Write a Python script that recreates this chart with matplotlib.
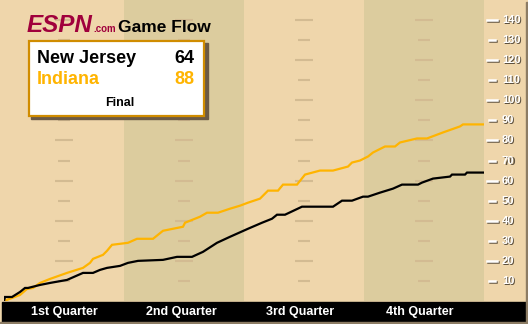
import matplotlib
matplotlib.use("Agg")
import matplotlib.pyplot as plt
from matplotlib.patches import Rectangle
import matplotlib.transforms as mtransforms

# game minute / running score
nj_min = [0, 0.1, 0.8, 1.6, 2.1, 2.4, 3.6, 4.6, 6.3, 7.9, 8.9, 9.6, 10.3, 11.6, 12.4, 13.4,
          15.9, 17.3, 18.8, 19.9, 21.3, 22.6, 24.4, 25.8, 26.8, 27.3, 28.1, 29.8, 32.9,
          33.8, 34.8, 35.9, 36.4, 37.6, 38.9, 39.8, 41.4, 41.8, 42.9, 44.6, 44.8, 46.1, 46.3, 48]
nj_pts = [0, 2, 2, 4.5, 6.5, 6.5, 8, 9, 10.5, 14, 14, 15.5, 16.5, 17.5, 19, 20,
          20.5, 22, 22, 24.5, 29, 32, 36, 39, 41, 43, 43, 47, 47,
          50, 50, 52, 52, 54, 56, 58, 58, 59, 61, 62, 63, 63, 64, 64]

ind_min = [0, 1.6, 2.3, 2.9, 3.6, 4.6, 6.3, 7.9, 8.6, 8.9, 9.9, 10.3, 10.8, 12.4, 13.3, 14.9,
           15.9, 16.9, 17.9, 18.1, 19.6, 20.3, 21.4, 22.6, 23.6, 24.4, 25.6, 26.4, 27.4,
           27.9, 29.3, 30.1, 31.6, 32.9, 34.4, 34.8, 35.6, 36.4, 36.9, 38.1, 39.1, 39.6,
           41.3, 42.3, 43.9, 45.6, 45.9, 48]
ind_pts = [0, 3, 6, 6.5, 9, 11, 14, 16.5, 19, 21, 23, 25, 28, 29, 31, 31,
           35, 36, 37, 39, 42, 44, 44, 46, 47.5, 49, 51, 55, 55,
           58, 58, 63, 65, 65, 67, 69, 70, 72, 74, 77, 77, 79,
           81, 81, 84, 87, 88, 88]

teams = ["New Jersey", "Indiana"]
finals = [64, 88]
quarters = ["1st Quarter", "2nd Quarter", "3rd Quarter", "4th Quarter"]
yticks = list(range(10, 150, 10))

light = "#efd6ab"
dark = "#dccc9e"
dash = "#d3bb92"
orange = "#ffb400"
border = "#8c7c64"

W, H = 528, 324
fig = plt.figure(figsize=(W / 100, H / 100), dpi=100)
fig.patch.set_facecolor(light)


def fx(px):
    return px / W


def fy(py):
    return 1 - py / H


ax = fig.add_axes([fx(4), fy(301), 480 / W, 301 / H])
ax.set_facecolor(light)
ax.set_xlim(0, 48)
ax.set_ylim(0, 150)
for s in ax.spines.values():
    s.set_visible(False)
ax.set_xticks([])
ax.set_yticks([])

ax.axvspan(12, 24, color=dark, lw=0)
ax.axvspan(36, 48, color=dark, lw=0)

for c in [6, 18, 30, 42]:
    for v in yticks:
        hw = 0.9 if v % 20 == 0 else 0.6
        ax.hlines(v, c - hw, c + hw, color=dash, lw=1.5)

ax.plot(ind_min, ind_pts, color=orange, lw=1.6, solid_joinstyle="miter")
ax.plot(nj_min, nj_pts, color="black", lw=1.6, solid_joinstyle="miter")

# right scale
ax2 = fig.add_axes([fx(484), fy(301), 42 / W, 301 / H])
ax2.set_facecolor(light)
ax2.set_xlim(0, 42)
ax2.set_ylim(0, 150)
ax2.axis("off")
shadow = mtransforms.offset_copy(ax2.transData, fig=fig, x=1, y=-1, units="dots")
for v in yticks:
    x0, x1 = (3, 13) if v % 20 == 0 else (5, 11)
    ax2.plot([x0, x1], [v, v], color="#5e5240", lw=1.8, transform=shadow)
    ax2.plot([x0, x1], [v, v], color="white", lw=1.8)
    ax2.text(18, v, str(v), color="#5e5240", fontsize=8, fontweight="bold",
             family="Liberation Sans", va="center", ha="left", transform=shadow)
    ax2.text(18, v, str(v), color="white", fontsize=8, fontweight="bold",
             family="Liberation Sans", va="center", ha="left")

# bottom bar and frame
fig.patches.append(Rectangle((fx(2), fy(322)), 524 / W, 20 / H, transform=fig.transFigure,
                             color="black", zorder=5))
fig.patches.append(Rectangle((fx(526), 0), 2 / W, fy(2), transform=fig.transFigure,
                             color=border, zorder=6))
fig.patches.append(Rectangle((0, 0), 1, 2 / H, transform=fig.transFigure,
                             color=border, zorder=6))
q_pos = [64, 181, 300, 420]
for q, px in zip(quarters, q_pos):
    fig.text(fx(px), fy(312), q, color="white", fontsize=9, fontweight="bold",
             family="Liberation Sans", ha="center", va="center", zorder=7)

# title
fig.text(fx(27), fy(32), "ESPN", color="#a0003c", fontsize=17.5, fontweight="bold",
         style="italic", family="Liberation Sans", ha="left", va="baseline")
fig.text(fx(93), fy(32), ".com", color="#a0003c", fontsize=7, fontweight="bold",
         family="Liberation Sans", ha="left", va="baseline")
fig.text(fx(118), fy(32), "Game Flow", color="black", fontsize=12.5, fontweight="bold",
         family="Liberation Sans", ha="left", va="baseline")

# score box
fig.patches.append(Rectangle((fx(31), fy(119)), 177 / W, 76 / H, transform=fig.transFigure,
                             color="#6b5a45", zorder=8))
fig.patches.append(Rectangle((fx(29), fy(116)), 175 / W, 75 / H, transform=fig.transFigure,
                             facecolor="white", edgecolor="#d08c00", lw=1.6, zorder=9))
for i, (team, pts) in enumerate(zip(teams, finals)):
    col = "black" if i == 0 else orange
    yb = 63 + i * 21
    fig.text(fx(37), fy(yb), team, color=col, fontsize=13, fontweight="bold",
             family="Liberation Sans", ha="left", va="baseline", zorder=10)
    fig.text(fx(194), fy(yb), str(pts), color=col, fontsize=13, fontweight="bold",
             family="Liberation Sans", ha="right", va="baseline", zorder=10)
fig.text(fx(120), fy(106), "Final", color="black", fontsize=9, fontweight="bold",
         family="Liberation Sans", ha="center", va="baseline", zorder=10)

fig.savefig("out.png", dpi=100, facecolor=fig.get_facecolor())
